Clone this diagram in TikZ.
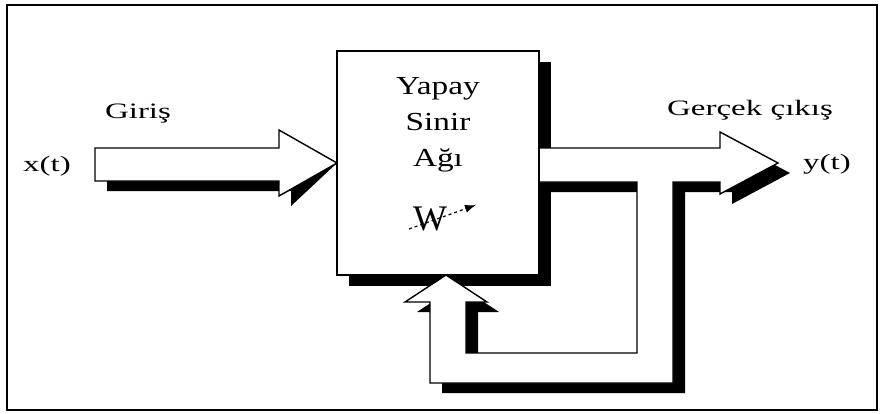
\documentclass[tikz,border=0pt]{standalone}
\usepackage{fontspec}
\setmainfont{Liberation Serif}
\usetikzlibrary{positioning,arrows.meta}

\pgfdeclarelayer{shadow}
\pgfdeclarelayer{pipe}
\pgfsetlayers{shadow,pipe,main}

\newcommand{\wide}[2][1.5]{\scalebox{#1}[1]{#2}}
% black copy first, white outlined shape above it
\newcommand{\fatarrow}[1]{%
  \begin{pgfonlayer}{shadow}\fill[black,shift={(12,10)}] #1;\end{pgfonlayer}
  \begin{pgfonlayer}{pipe}\filldraw[fat] #1;\end{pgfonlayer}}

\begin{document}
\begin{tikzpicture}[x=1pt,y=-1pt,
        every node/.style={inner sep=0,outer sep=0},
        lbl/.style={font=\fontsize{22}{26}\selectfont,anchor=base},
        fat/.style={draw=black,fill=white,line width=1.4pt,line join=miter},
        block/.style={draw=black,fill=white,line width=1.5pt,minimum width=202pt,minimum height=224pt},
        ]
\useasboundingbox (0,0) rectangle (881,413);
\draw[line width=1.8pt] (7,5) rectangle (877,410);

\node[block] (net) at (438,163) {};
\node[font=\fontsize{26}{36}\selectfont,align=center,anchor=north] (name) at (438,77)
    {\wide[1.28]{Yapay}\\\wide[1.28]{Sinir}\\\wide[1.28]{Ağı}};

\begin{pgfonlayer}{shadow}
    \fill[black] ([shift={(12,11)}]net.north west) rectangle ([shift={(12,11)}]net.south east);
\end{pgfonlayer}

% input
\fatarrow{(95,148) -- (279,148) -- (279,130) -- (net.west) -- (279,196) -- (279,181) -- (95,181) -- cycle}
% output with feedback loop
\fatarrow{(539,148) -- (720,148) -- (720,132) -- (778,163) -- (720,194) -- (720,182)
    -- (673,182) -- (673,383) -- (430,383) -- (430,302) -- (405,302) -- (446,275)
    -- (487,302) -- (466,302) -- (466,353) -- (637,353) -- (637,182) -- (539,182) -- cycle}

\node[lbl] (in) at (138,118) {\wide{Giriş}};
\node[lbl] (x) at (47,171) {\wide{x(t)}};
\node[lbl] (out) at (750,115) {\wide{Gerçek çıkış}};
\node[lbl] (y) at (827,169) {\wide{y(t)}};

\node[lbl,font=\fontsize{36}{40}\selectfont] (w) at (430,230) {W};
\coordinate (w0) at (409,229);
\coordinate (w1) at (476,205);
\draw[dashed,line width=1.2pt,-{Latex[length=11pt,width=8pt]}] (w0) -- (w1);

\end{tikzpicture}
\end{document}
